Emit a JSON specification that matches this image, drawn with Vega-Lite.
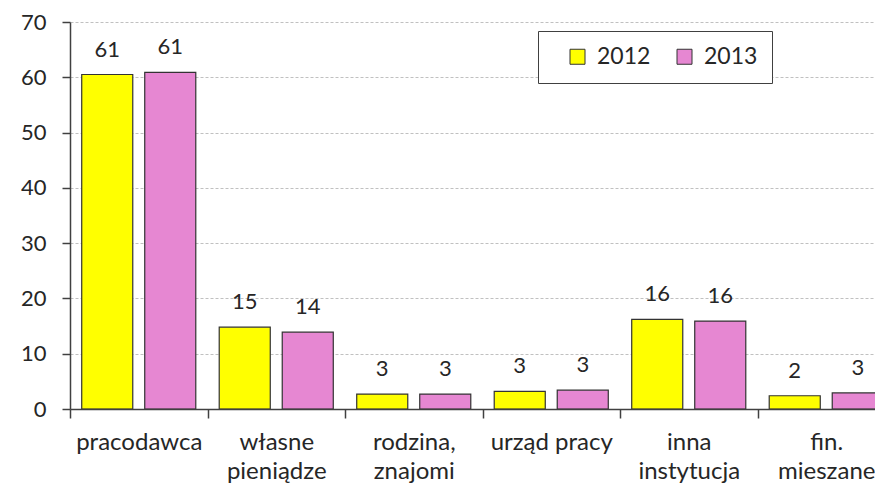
{
  "$schema": "https://vega.github.io/schema/vega-lite/v6.json",
  "width": 825,
  "height": 387,
  "autosize": {"type": "none"},
  "padding": {"left": 70, "top": 22, "right": 0, "bottom": 78},
  "background": "white",
  "config": {
    "font": "Lato",
    "view": {"stroke": null},
    "axis": {"labelFont": "Lato", "labelColor": "#262626", "labelFontSize": 22}
  },
  "data": {
    "values": [
      {"kategoria": "pracodawca", "rok": "2012", "wartosc": 60.5, "etykieta": "61"},
      {"kategoria": "pracodawca", "rok": "2013", "wartosc": 60.9, "etykieta": "61"},
      {"kategoria": "własne pieniądze", "rok": "2012", "wartosc": 14.8, "etykieta": "15"},
      {"kategoria": "własne pieniądze", "rok": "2013", "wartosc": 13.9, "etykieta": "14"},
      {"kategoria": "rodzina, znajomi", "rok": "2012", "wartosc": 2.7, "etykieta": "3"},
      {"kategoria": "rodzina, znajomi", "rok": "2013", "wartosc": 2.7, "etykieta": "3"},
      {"kategoria": "urząd pracy", "rok": "2012", "wartosc": 3.2, "etykieta": "3"},
      {"kategoria": "urząd pracy", "rok": "2013", "wartosc": 3.4, "etykieta": "3"},
      {"kategoria": "inna instytucja", "rok": "2012", "wartosc": 16.2, "etykieta": "16"},
      {"kategoria": "inna instytucja", "rok": "2013", "wartosc": 15.9, "etykieta": "16"},
      {"kategoria": "fin. mieszane", "rok": "2012", "wartosc": 2.4, "etykieta": "2"},
      {"kategoria": "fin. mieszane", "rok": "2013", "wartosc": 2.9, "etykieta": "3"}
    ]
  },
  "encoding": {
    "x": {
      "field": "kategoria",
      "type": "nominal",
      "sort": null,
      "scale": {"paddingInner": 0, "paddingOuter": 0},
      "axis": {
        "title": null,
        "labelAngle": 0,
        "labelExpr": "(datum.label == 'pracodawca' || datum.label == 'urząd pracy') ? datum.label : split(datum.label, ' ')",
        "labelFontSize": 24,
        "labelLineHeight": 29,
        "labelPadding": 12,
        "labelBaseline": "top",
        "tickBand": "extent",
        "tickSize": 9,
        "tickColor": "#404040",
        "domainColor": "#404040",
        "domainWidth": 1.5,
        "tickWidth": 1.5,
        "grid": false,
        "zindex": 1
      }
    },
    "xOffset": {
      "field": "rok",
      "type": "nominal",
      "scale": {"paddingInner": 0.19, "paddingOuter": 0.186}
    },
    "y": {
      "field": "wartosc",
      "type": "quantitative",
      "scale": {"domain": [0, 70], "nice": false},
      "axis": {
        "title": null,
        "values": [0, 10, 20, 30, 40, 50, 60, 70],
        "tickSize": 8,
        "labelPadding": 16,
        "tickColor": "#404040",
        "domainColor": "#404040",
        "domainWidth": 1.5,
        "tickWidth": 1.5,
        "grid": true,
        "gridColor": "#c0c0c0",
        "gridDash": [3, 2],
        "gridWidth": 1
      }
    }
  },
  "layer": [
    {
      "mark": {"type": "bar", "stroke": "#333333", "strokeWidth": 1.2},
      "encoding": {
        "color": {
          "field": "rok",
          "type": "nominal",
          "scale": {"domain": ["2012", "2013"], "range": ["#FFFF00", "#E687D2"]},
          "legend": {
            "title": null,
            "orient": "none",
            "legendX": 468,
            "legendY": 9,
            "direction": "horizontal",
            "strokeColor": "#404040",
            "padding": 14,
            "symbolOffset": 14,
            "symbolType": "square",
            "symbolSize": 225,
            "symbolStrokeColor": "#333333",
            "symbolStrokeWidth": 1,
            "labelFontSize": 23,
            "labelFont": "Lato",
            "labelColor": "#262626",
            "columnPadding": 8,
            "labelOffset": 8,
            "fillColor": "white"
          }
        }
      }
    },
    {
      "mark": {"type": "text", "baseline": "bottom", "dy": -13, "fontSize": 22, "font": "Lato", "color": "#262626"},
      "encoding": {"text": {"field": "etykieta"}}
    }
  ]
}
